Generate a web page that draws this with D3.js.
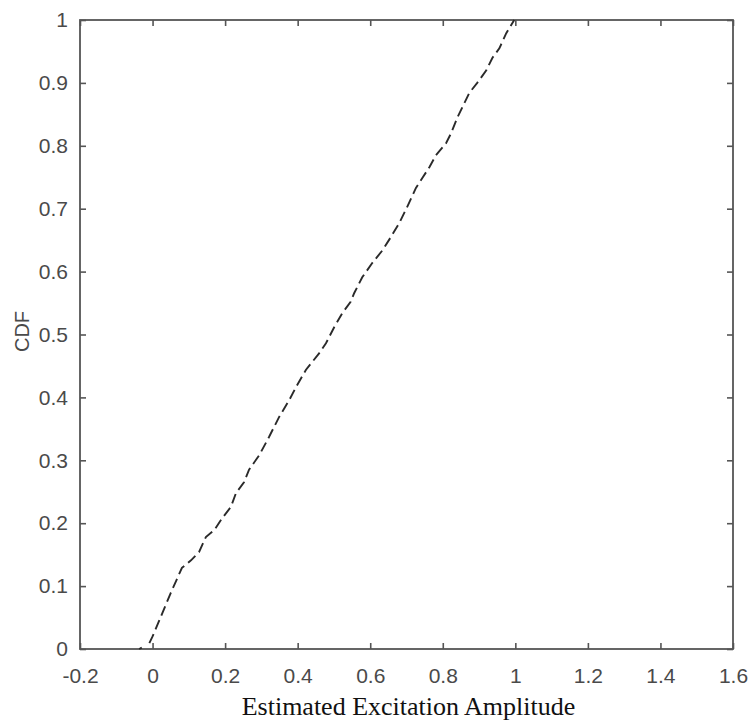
<!DOCTYPE html>
<html><head><meta charset="utf-8">
<script src="https://cdn.jsdelivr.net/npm/d3@7"></script>
<style>body{margin:0;background:#fff}svg{display:block}</style>
</head><body>
<svg id="c" width="748" height="721"></svg>
<script>
const xTicks = [-0.2, 0, 0.2, 0.4, 0.6, 0.8, 1, 1.2, 1.4, 1.6];
const xTickLabels = ["-0.2","0","0.2","0.4","0.6","0.8","1","1.2","1.4","1.6"];
const yTicks = [0,0.1,0.2,0.3,0.4,0.5,0.6,0.7,0.8,0.9,1];
const yTickLabels = ["0","0.1","0.2","0.3","0.4","0.5","0.6","0.7","0.8","0.9","1"];
const cdfX = [-0.037,-0.01,0.0,0.027,0.05,0.081,0.106,0.128,0.147,0.17,0.192,0.216,0.23,0.252,0.266,0.294,0.321,0.349,0.377,0.396,0.423,0.459,0.478,0.501,0.523,0.546,0.556,0.578,0.606,0.634,0.657,0.68,0.702,0.726,0.745,0.763,0.781,0.809,0.823,0.841,0.873,0.895,0.92,0.937,0.956,0.975,0.997];
const cdfY = [0,0.008,0.02,0.057,0.089,0.129,0.141,0.154,0.178,0.189,0.208,0.226,0.248,0.265,0.285,0.308,0.337,0.369,0.396,0.417,0.444,0.47,0.486,0.512,0.534,0.552,0.566,0.591,0.614,0.634,0.655,0.677,0.703,0.733,0.75,0.766,0.785,0.804,0.82,0.846,0.884,0.9,0.92,0.94,0.955,0.979,1.0];
const xLabel = "Estimated Excitation Amplitude";
const yLabel = "CDF";

const L=80, R=733, T=20, B=649;
const svg = d3.select("#c");
const x = d3.scaleLinear().domain([-0.2,1.6]).range([L,R]);
const y = d3.scaleLinear().domain([0,1]).range([B,T]);
const axCol="#555", txtCol="#4a4a4a", tickFont="21px 'Liberation Sans', Arial, sans-serif";

// box
svg.append("rect").attr("x",L).attr("y",T).attr("width",R-L).attr("height",B-T)
  .attr("fill","none").attr("stroke",axCol).attr("stroke-width",1.8);

// axes with inward ticks
const tl = 6;
const gB = svg.append("g").attr("transform",`translate(0,${B})`)
  .call(d3.axisBottom(x).tickValues(xTicks).tickFormat((d,i)=>xTickLabels[i]).tickSizeInner(-tl).tickSizeOuter(0).tickPadding(tl+13));
const gT = svg.append("g").attr("transform",`translate(0,${T})`)
  .call(d3.axisTop(x).tickValues(xTicks).tickFormat("").tickSizeInner(-tl).tickSizeOuter(0));
const gL = svg.append("g").attr("transform",`translate(${L},0)`)
  .call(d3.axisLeft(y).tickValues(yTicks).tickFormat((d,i)=>yTickLabels[i]).tickSizeInner(-tl).tickSizeOuter(0).tickPadding(tl+6));
const gR = svg.append("g").attr("transform",`translate(${R},0)`)
  .call(d3.axisRight(y).tickValues(yTicks).tickFormat("").tickSizeInner(-tl).tickSizeOuter(0));
[gB,gT,gL,gR].forEach(g=>{
  g.select(".domain").remove();
  g.selectAll(".tick line").attr("stroke",axCol).attr("stroke-width",1.6);
  g.selectAll("text").style("font",tickFont).attr("fill",txtCol);
});

// line
const pts = cdfX.map((v,i)=>[v,cdfY[i]]);
svg.append("path").datum(pts)
  .attr("d",d3.line().x(d=>x(d[0])).y(d=>y(d[1])))
  .attr("fill","none").attr("stroke","#2a2a2a").attr("stroke-width",1.9)
  .attr("stroke-dasharray","3,9,10,5,10,5,10,5,10,5,10,5,10,5,10,5,10,5,10,5,10,5,10,5,10,5,10,5,10,5,10,5,10,5,10,5,10,5,10,5,10,5,10,5,10,5,10,5,10,5,10,5,10,5,10,5,10,5,10,5,10,5,10,5,10,5,10,5,10,5,10,5,10,5,10,5,10,5,10,5,10,5,10,5,10,5,10,5,10,5,10,5,10,5,10,5,10,5,10,5,10,5");

// labels
svg.append("text").attr("x",(L+R)/2+2).attr("y",715).attr("text-anchor","middle")
  .style("font","26px 'Liberation Serif', 'Times New Roman', serif").attr("fill","#111").text(xLabel);
svg.append("text").attr("transform",`translate(29,${(T+B)/2-3}) rotate(-90)`).attr("text-anchor","middle")
  .style("font","20px 'Liberation Sans', Arial, sans-serif").attr("fill",txtCol).text(yLabel);
</script>
</body></html>
